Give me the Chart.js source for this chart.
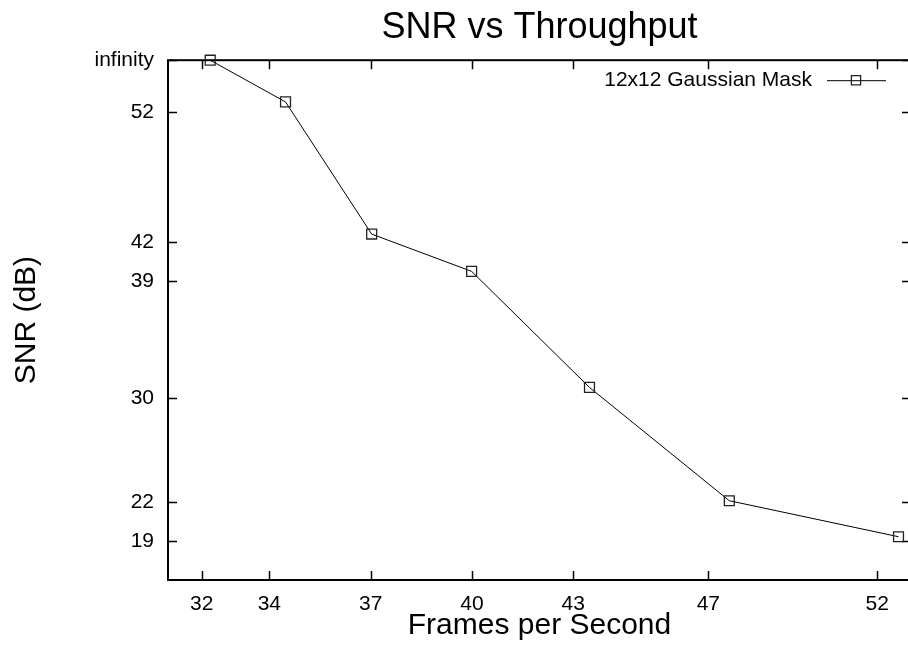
<!DOCTYPE html>
<html>
<head>
<meta charset="utf-8">
<title>SNR vs Throughput</title>
<script src="https://cdn.jsdelivr.net/npm/chart.js@4/dist/chart.umd.min.js"></script>
<style>
    html, body { margin: 0; padding: 0; background: #fff; overflow: hidden; }
</style>
</head>
<body>
<canvas id="snr-chart" width="930" height="649"></canvas>
<script>
// Values
const framesPerSecond = [32.25, 34.48, 37.03, 39.99, 43.48, 47.62, 52.63];
const snrValues = [56, 52.79, 42.62, 39.75, 30.82, 22.1, 19.33];
const xTickValues = [32, 34, 37, 40, 43, 47, 52];
const yTickValues = [19, 22, 30, 39, 42, 52, 56];
const yTickLabels = ['19', '22', '30', '39', '42', '52', 'infinity'];
const seriesLabel = '12x12 Gaussian Mask';

const FONT = "'Liberation Sans', Arial, sans-serif";
const TICK_LEN = 9;

// gnuplot style frame with inward tick marks on all four sides
const framePlugin = {
    id: 'frame',
    beforeDatasetsDraw(chart) {
        const { ctx, chartArea: a, scales } = chart;
        ctx.save();
        ctx.strokeStyle = '#000';
        ctx.lineWidth = 1.5;
        ctx.beginPath();
        xTickValues.forEach(v => {
            const px = Math.round(scales.x.getPixelForValue(v)) + 0.5;
            ctx.moveTo(px, a.bottom); ctx.lineTo(px, a.bottom - TICK_LEN);
            ctx.moveTo(px, a.top); ctx.lineTo(px, a.top + TICK_LEN);
        });
        yTickValues.forEach(v => {
            const py = Math.round(scales.y.getPixelForValue(v)) + 0.5;
            ctx.moveTo(a.left, py); ctx.lineTo(a.left + TICK_LEN, py);
            ctx.moveTo(a.right, py); ctx.lineTo(a.right - TICK_LEN, py);
        });
        ctx.stroke();
        ctx.lineWidth = 2;
        ctx.strokeRect(a.left, a.top, a.right - a.left, a.bottom - a.top);
        ctx.restore();
    },
    afterDraw(chart) {
        // key in the top right corner: text, then line sample with marker
        const { ctx, chartArea: a } = chart;
        const ds = chart.data.datasets[0];
        const y = a.top + 20;
        ctx.save();
        ctx.font = '21px ' + FONT;
        ctx.fillStyle = '#000';
        ctx.textAlign = 'right';
        ctx.textBaseline = 'middle';
        ctx.fillText(ds.label, a.right - 99, y);
        ctx.strokeStyle = ds.borderColor;
        ctx.lineWidth = ds.borderWidth;
        ctx.beginPath();
        ctx.moveTo(a.right - 84, y + 0.5);
        ctx.lineTo(a.right - 25, y + 0.5);
        ctx.stroke();
        ctx.strokeStyle = ds.pointBorderColor;
        ctx.fillStyle = 'rgba(0,0,0,0)';
        ctx.lineWidth = ds.pointBorderWidth;
        Chart.helpers.drawPoint(ctx, { pointStyle: 'rect', radius: 6.5, borderWidth: ds.pointBorderWidth }, a.right - 55, y);
        ctx.restore();
    }
};

const chart = new Chart(document.getElementById('snr-chart'), {
    type: 'line',
    data: {
        datasets: [{
            label: seriesLabel,
            data: framesPerSecond.map((fps, i) => ({ x: fps, y: snrValues[i] })),
            borderColor: '#000',
            borderWidth: 1,
            pointStyle: 'rect',
            pointRadius: 7,
            pointBorderColor: '#222',
            pointBorderWidth: 1.3,
            pointBackgroundColor: 'rgba(0,0,0,0)',
            tension: 0,
            clip: false
        }]
    },
    options: {
        responsive: false,
        animation: false,
        layout: { padding: { left: 0, right: 19, top: 0, bottom: 0 } },
        plugins: {
            legend: { display: false },
            tooltip: { enabled: false },
            title: {
                display: true,
                fullSize: false,
                text: 'SNR vs Throughput',
                color: '#000',
                font: { family: FONT, size: 36, weight: 'normal' },
                padding: { top: 6, bottom: 11 }
            }
        },
        scales: {
            x: {
                type: 'linear',
                min: 31,
                max: 53,
                afterBuildTicks: axis => { axis.ticks = xTickValues.map(v => ({ value: v })); },
                afterFit: axis => { axis.height = 69; },
                grid: { display: false, drawTicks: false },
                border: { display: false },
                ticks: {
                    color: '#000',
                    font: { family: FONT, size: 21 },
                    padding: 12,
                    maxRotation: 0,
                    autoSkip: false
                },
                title: {
                    display: true,
                    text: 'Frames per Second',
                    color: '#000',
                    font: { family: FONT, size: 30 },
                    padding: { top: 0, bottom: 5 }
                }
            },
            y: {
                type: 'linear',
                min: 16,
                max: 56,
                afterBuildTicks: axis => { axis.ticks = yTickValues.map(v => ({ value: v })); },
                afterFit: axis => { axis.width = 168; },
                grid: { display: false, drawTicks: false },
                border: { display: false },
                ticks: {
                    color: '#000',
                    font: { family: FONT, size: 21 },
                    padding: 14,
                    autoSkip: false,
                    callback: value => yTickLabels[yTickValues.indexOf(value)]
                },
                title: {
                    display: true,
                    text: 'SNR (dB)',
                    color: '#000',
                    font: { family: FONT, size: 30 },
                    padding: { top: 9, bottom: 0 }
                }
            }
        }
    },
    plugins: [framePlugin]
});
</script>
</body>
</html>
